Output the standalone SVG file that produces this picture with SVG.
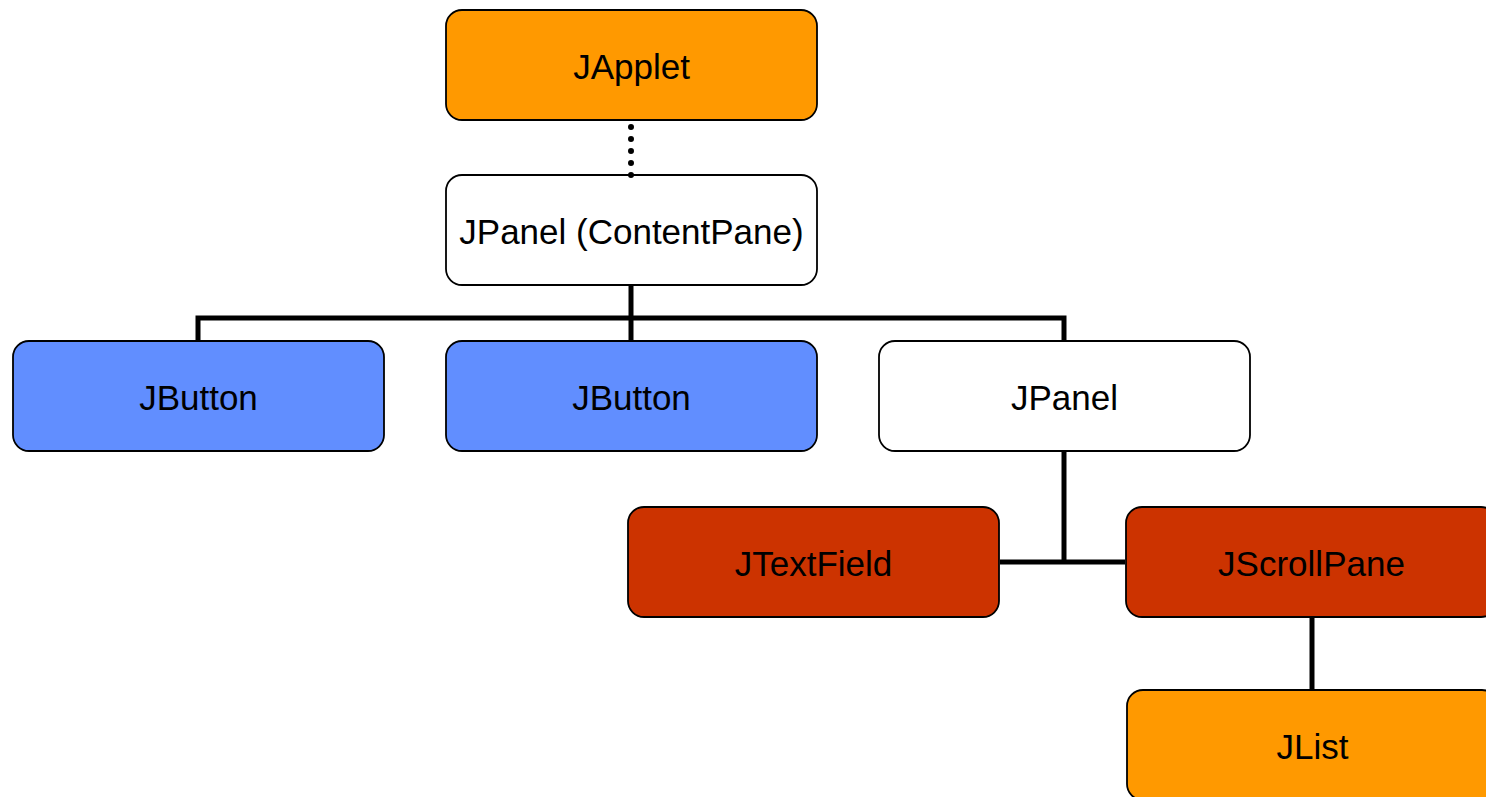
<svg xmlns="http://www.w3.org/2000/svg" width="1486" height="797" viewBox="0 0 1486 797">
  <style>
    .box { stroke: #000; stroke-width: 1.8; }
    .orange { fill: #FF9900; }
    .white { fill: #FFFFFF; }
    .blue { fill: #618EFF; }
    .red { fill: #CC3300; }
    .label { font-family: "Liberation Sans", Arial, sans-serif; font-size: 35px; fill: #000; text-anchor: middle; }
    .link { stroke: #000; stroke-width: 5; fill: none; }
    .dotted { stroke: #000; stroke-width: 6; stroke-linecap: round; stroke-dasharray: 0 12; fill: none; }
  </style>
  <rect width="1486" height="797" fill="#FFFFFF"/>

  <g id="japplet">
    <rect class="box orange" x="446" y="10" width="371" height="110" rx="16"/>
    <text class="label" x="631.5" y="79">JApplet</text>
  </g>
  <g id="contentpane">
    <rect class="box white" x="446" y="175" width="371" height="110" rx="16"/>
    <text class="label" x="631.5" y="244">JPanel (ContentPane)</text>
  </g>
  <g id="jbutton1">
    <rect class="box blue" x="13" y="341" width="371" height="110" rx="16"/>
    <text class="label" x="198.5" y="410">JButton</text>
  </g>
  <g id="jbutton2">
    <rect class="box blue" x="446" y="341" width="371" height="110" rx="16"/>
    <text class="label" x="631.5" y="410">JButton</text>
  </g>
  <g id="jpanel">
    <rect class="box white" x="879" y="341" width="371" height="110" rx="16"/>
    <text class="label" x="1064.5" y="410">JPanel</text>
  </g>
  <g id="jtextfield">
    <rect class="box red" x="628" y="507" width="371" height="110" rx="16"/>
    <text class="label" x="813.5" y="576">JTextField</text>
  </g>
  <g id="jscrollpane">
    <rect class="box red" x="1126" y="507" width="371" height="110" rx="16"/>
    <text class="label" x="1311.5" y="576">JScrollPane</text>
  </g>
  <g id="jlist">
    <rect class="box orange" x="1127" y="690" width="371" height="110" rx="16"/>
    <text class="label" x="1312.5" y="759">JList</text>
  </g>

  <!-- tree connectors, drawn over the box borders -->
  <g id="connectors">
    <path class="dotted" d="M631 127 V176"/>
    <path class="link" d="M631 286 V340"/>
    <path class="link" d="M198 340 V318 H1064 V340"/>
    <path class="link" d="M1064 452 V562"/>
    <path class="link" d="M1000 562 H1125"/>
    <path class="link" d="M1312 618 V689"/>
  </g>
</svg>
